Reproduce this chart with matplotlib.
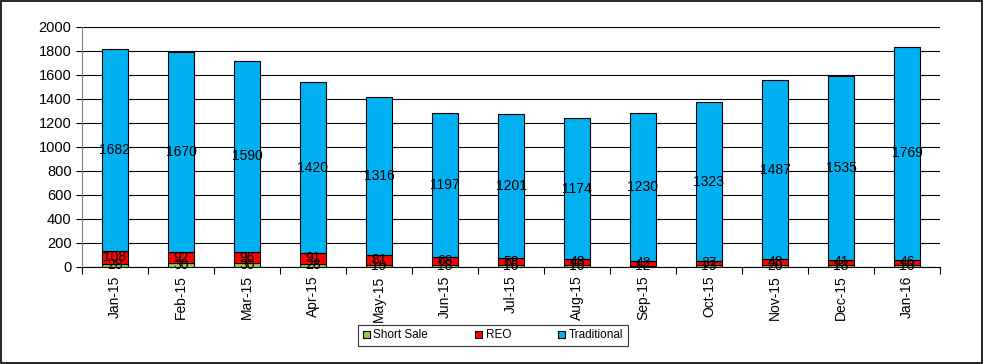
import matplotlib
matplotlib.use("Agg")
import matplotlib.pyplot as plt
import numpy as np
from matplotlib.patches import Rectangle

months = ["Jan-15", "Feb-15", "Mar-15", "Apr-15", "May-15", "Jun-15", "Jul-15",
          "Aug-15", "Sep-15", "Oct-15", "Nov-15", "Dec-15", "Jan-16"]
short_sale = [28, 30, 30, 28, 19, 18, 16, 16, 12, 13, 20, 18, 16]
reo = [108, 92, 96, 91, 81, 68, 58, 48, 42, 37, 48, 41, 46]
traditional = [1682, 1670, 1590, 1420, 1316, 1197, 1201, 1174, 1230, 1323, 1487, 1535, 1769]

plt.rcParams['font.family'] = ['Liberation Sans', 'DejaVu Sans']

fig = plt.figure(figsize=(9.84, 3.64), dpi=100)
ax = fig.add_axes([82/984, 1-267/364, (940-82)/984, (267-27)/364])

x = np.arange(len(months))
w = 0.4
ss = np.array(short_sale)
re = np.array(reo)
tr = np.array(traditional)

series = [("Short Sale", ss, np.zeros_like(ss), "#92D050"),
          ("REO", re, ss, "#FF0000"),
          ("Traditional", tr, ss + re, "#00B0F0")]

for name, vals, bottom, col in series:
    ax.bar(x, vals, w, bottom=bottom, color=col, edgecolor="black",
           linewidth=0.8, label=name, zorder=3)
    for xi, v, b in zip(x, vals, bottom):
        ax.text(xi, b + v/2, str(v), ha="center", va="center", fontsize=10,
                color="black", zorder=4)

ax.set_xlim(-0.5, len(months) - 0.5)
ax.set_ylim(0, 2000)
ax.set_yticks(range(0, 2001, 200))
ax.yaxis.grid(True, color="black", linewidth=0.8, zorder=0)
ax.set_axisbelow(True)

ax.set_xticks(x)
ax.set_xticklabels(months, rotation=90, fontsize=10)
ax.set_xticks(np.arange(-0.5, len(months) + 0.5, 1), minor=True)
ax.tick_params(axis="x", which="major", length=0, pad=6)
ax.tick_params(axis="x", which="minor", length=5, direction="out", width=0.8)
ax.tick_params(axis="y", length=4, direction="out", width=0.8, labelsize=10.5)

for s in ["top", "right"]:
    ax.spines[s].set_visible(False)
ax.spines["left"].set_color("#808080")
ax.spines["bottom"].set_color("black")

leg = fig.legend(loc="center", bbox_to_anchor=(493/984, 1-335.5/364),
                 ncol=3, fontsize=8.5, frameon=True, fancybox=False,
                 edgecolor="black", handlelength=0.6, handleheight=0.6, handletextpad=0.3,
                 borderpad=0.4, columnspacing=4.0, borderaxespad=0)
leg.get_frame().set_linewidth(0.8)
leg._legend_box.align = "center"

fig.patches.append(Rectangle((0.001, 0.002), 0.997, 0.995, transform=fig.transFigure,
                             fill=False, edgecolor="black", linewidth=1.2))

fig.savefig("out.png", dpi=100)
